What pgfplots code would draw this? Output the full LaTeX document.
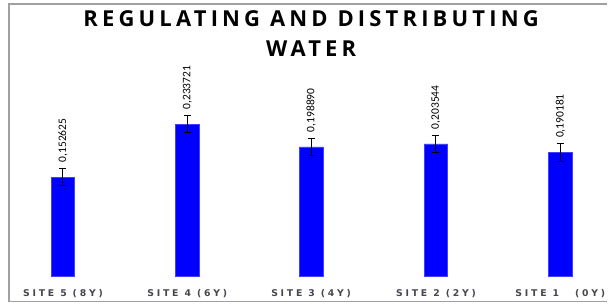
\documentclass[border=0pt]{standalone}
\usepackage{fontspec}
\usepackage{pgfplots}
\usepackage{pgfplotstable}
\pgfplotsset{compat=1.18}
\setmainfont{Open Sans}
\newfontfamily\titlefont[LetterSpace=19]{Open Sans}
\newfontfamily\tickfont[LetterSpace=30]{DejaVu Sans}
\newfontfamily\valfont{Carlito}
\definecolor{barblue}{RGB}{0,0,255}
\definecolor{frame}{RGB}{160,160,160}
\definecolor{ticktext}{RGB}{70,70,80}

\pgfplotstableread{
x     y         err     label
63    0.152625  0.0133  0,152625
187.5 0.233721  0.0133  0,233721
311.5 0.198890  0.0135  0,198890
436.5 0.203544  0.0130  0,203544
561   0.190181  0.0133  0,190181
}\datatable

\begin{document}
\begin{tikzpicture}
\begin{axis}[
  scale only axis,
  width=608bp, height=273bp,
  xmin=0, xmax=608,
  ymin=0, ymax=0.41788,
  clip=false,
  hide y axis,
  axis x line*=bottom,
  x axis line style={draw=none},
  major tick length=0pt,
  xtick={63,187.5,311.5,436.5,561},
  xticklabels={SITE 5 (8Y), SITE 4 (6Y), SITE 3 (4Y), SITE 2 (2Y), {SITE 1\hspace{16bp}(0Y)}},
  xticklabel style={anchor=base, yshift=-20bp, font=\tickfont\bfseries\fontsize{9.3bp}{11bp}\selectfont, text=ticktext, inner sep=0pt},
  ybar,
  bar width=23.5bp,
  nodes near coords,
  point meta=explicit symbolic,
  every node near coord/.append style={font=\valfont\fontsize{11.5bp}{13bp}\selectfont, anchor=west, rotate=90, inner sep=0pt, xshift=14.5bp, text=black},
]
\addplot[fill=barblue, draw=barblue!75!white, line width=0.5bp,
  error bars/.cd, y dir=both, y explicit,
  error bar style={line width=1bp, black},
  error mark options={rotate=90, black, line width=1bp, mark size=3.5bp}]
  table[x=x, y=y, y error=err, meta=label] {\datatable};

% frame
\draw[frame, line width=1.5bp] (axis cs:608,0.41788) -- (axis cs:9,0.41788) -- (axis cs:9,-0.03827) -- (axis cs:608,-0.03827);
% bounding box
\path (axis cs:0,-0.04592) rectangle (axis cs:608,0.42400);
% title
\node[anchor=base, inner sep=0pt, font=\titlefont\bfseries\fontsize{22bp}{26bp}\selectfont] at (axis cs:311.5,0.38313) {REGULATING AND DISTRIBUTING};
\node[anchor=base, inner sep=0pt, font=\titlefont\bfseries\fontsize{22bp}{26bp}\selectfont] at (axis cs:311.5,0.33721) {WATER};
\end{axis}
\end{tikzpicture}
\end{document}
